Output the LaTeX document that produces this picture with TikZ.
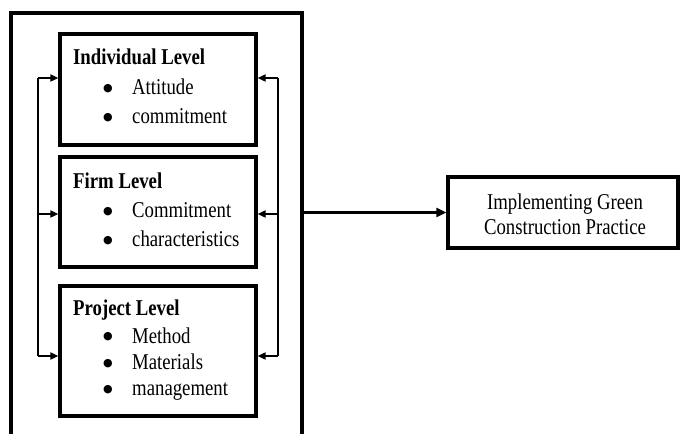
\documentclass[tikz,border=0pt]{standalone}
\usepackage{fontspec}
\setmainfont{Liberation Serif}[FakeStretch=0.83]
\newfontfamily\bulfont{DejaVu Sans}
\usetikzlibrary{arrows.meta}
\begin{document}
\begin{tikzpicture}[x=1bp,y=-1bp,
  box/.style={draw,line width=3.2bp,minimum width=#1,inner sep=0pt},
  lvl/.style={anchor=base west,inner sep=0pt,font=\fontsize{22.6bp}{25bp}\selectfont\bfseries},
  itm/.style={anchor=base west,inner sep=0pt,font=\fontsize{22.6bp}{25bp}\selectfont},
  ctr/.style={anchor=base,inner sep=0pt,font=\fontsize{22.6bp}{25bp}\selectfont},
  bul/.style={anchor=base,inner sep=0pt,yshift=3bp,font=\fontsize{11bp}{12bp}\bulfont},
  conn/.style={line width=1.8bp},
  arr/.style={line width=1.8bp,-{Triangle[length=8bp,width=7bp]}},
  big/.style={line width=2.4bp,-{Triangle[length=10bp,width=9bp]}}]
\useasboundingbox (0,0) rectangle (681,434);
% outer frame, open at the bottom
\coordinate (oBL) at (11,434);
\coordinate (oTL) at (11,13);
\coordinate (oTR) at (302,13);
\coordinate (oBR) at (302,434);
\draw[line width=3.2bp] (oBL) -- (oTL) -- (oTR) -- (oBR);
% level boxes
\node[box=196bp,minimum height=111bp] (b1) at (158,89.5) {};
\node[box=196bp,minimum height=110bp] (b2) at (158,212) {};
\node[box=196bp,minimum height=130bp] (b3) at (158,351) {};
% target box
\node[box=230bp,minimum height=71bp] (tg) at (563,212.5) {};
\node[ctr] (tg1) at (565,210) {Implementing Green};
\node[ctr] (tg2) at (565,235) {Construction Practice};
% texts
\node[lvl] (h1) at (73,65) {Individual Level};
\node[bul] (p11) at (108,95) {●};
\node[itm] (t11) at (132,95) {Attitude};
\node[bul] (p12) at (108,124) {●};
\node[itm] (t12) at (132,124) {commitment};
\node[lvl] (h2) at (73,189) {Firm Level};
\node[bul] (p21) at (108,218) {●};
\node[itm] (t21) at (132,218) {Commitment};
\node[bul] (p22) at (108,247) {●};
\node[itm] (t22) at (132,247) {characteristics};
\node[lvl] (h3) at (73,316) {Project Level};
\node[bul] (p31) at (108,343) {●};
\node[itm] (t31) at (132,343) {Method};
\node[bul] (p32) at (108,369) {●};
\node[itm] (t32) at (132,369) {Materials};
\node[bul] (p33) at (108,395) {●};
\node[itm] (t33) at (132,395) {management};
% left feedback line
\coordinate (L1) at (38,78);
\coordinate (L2) at (38,214);
\coordinate (L3) at (38,356);
\draw[conn] (L1) -- (L3);
\draw[arr] (L1) -- (L1 -| b1.west);
\draw[arr] (L2) -- (L2 -| b2.west);
\draw[arr] (L3) -- (L3 -| b3.west);
% right feedback line
\coordinate (R1) at (278,78);
\coordinate (R2) at (278,214);
\coordinate (R3) at (278,356);
\draw[conn] (R1) -- (R3);
\draw[arr] (R1) -- (R1 -| b1.east);
\draw[arr] (R2) -- (R2 -| b2.east);
\draw[arr] (R3) -- (R3 -| b3.east);
% frame to outcome
\coordinate (oM) at (302,212.5);
\draw[big] (oM) -- (tg.west);
\end{tikzpicture}
\end{document}
